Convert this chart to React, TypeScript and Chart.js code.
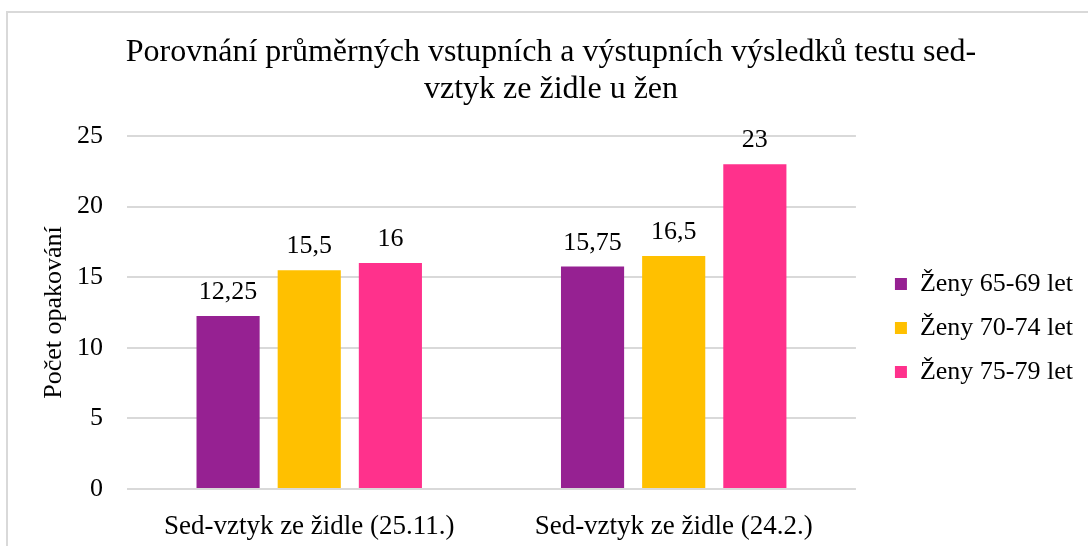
import React, { useEffect, useRef } from "react";
import { Chart, registerables } from "chart.js";

Chart.register(...registerables);

const titleLines = [
  "Porovnání průměrných vstupních a výstupních výsledků testu sed-",
  "vztyk ze židle u žen",
];
const categories = ["Sed-vztyk ze židle (25.11.)", "Sed-vztyk ze židle (24.2.)"];
const seriesNames = ["Ženy 65-69 let", "Ženy 70-74 let", "Ženy 75-79 let"];
const women6569 = [12.25, 15.75];
const women7074 = [15.5, 16.5];
const women7579 = [16, 23];
const seriesColors = ["#962192", "#FFC000", "#FF318C"];
const yAxisTitle = "Počet opakování";
const yMin = 0;
const yMax = 25;
const yStep = 5;

const FONT = '"Liberation Serif", "Times New Roman", serif';

const fmt = (v: number) => String(v).replace(".", ",");

const valueLabels = {
  id: "valueLabels",
  afterDatasetsDraw(chart: any) {
    const ctx = chart.ctx;
    ctx.save();
    ctx.font = `26px ${FONT}`;
    ctx.fillStyle = "#000";
    ctx.textAlign = "center";
    ctx.textBaseline = "alphabetic";
    chart.data.datasets.forEach((ds: any, i: number) => {
      const meta = chart.getDatasetMeta(i);
      meta.data.forEach((el: any, j: number) => {
        ctx.fillText(fmt(ds.data[j]), el.x, el.y - 17);
      });
    });
    ctx.restore();
  },
};

export default function App() {
  const ref = useRef<HTMLCanvasElement>(null);

  useEffect(() => {
    if (!ref.current) return;
    Chart.defaults.color = "#000";
    const data = [women6569, women7074, women7579];
    const chart = new Chart(ref.current, {
      type: "bar",
      data: {
        labels: categories,
        datasets: data.map((d, i) => ({
          label: seriesNames[i],
          data: d,
          backgroundColor: seriesColors[i],
          borderWidth: 0,
          categoryPercentage: 0.668,
          barPercentage: 0.778,
          yAxisID: "y",
        })),
      },
      options: {
        responsive: false,
        animation: false,
        layout: { padding: { left: 11, right: 5, top: 0, bottom: 0 } },
        plugins: {
          tooltip: { enabled: false },
          title: {
            display: true,
            text: titleLines,
            color: "#000",
            font: { family: FONT, size: 32, weight: "normal", lineHeight: 1.15 },
            padding: { top: 21.6, bottom: 27.8 },
          },
          legend: {
            position: "right",
            labels: {
              color: "#000",
              font: { family: FONT, size: 26 },
              boxWidth: 12,
              boxHeight: 12,
              padding: 18,
            },
          },
        },
        scales: {
          x: {
            grid: { display: false },
            border: { display: false },
            ticks: { font: { family: FONT, size: 27 }, color: "#000", padding: 14 },
            afterFit: (s: any) => {
              s.height = 154;
            },
          },
          y: {
            min: yMin,
            max: yMax,
            ticks: {
              stepSize: yStep,
              font: { family: FONT, size: 26 },
              color: "#000",
              padding: 24,
            },
            grid: { color: "#d9d9d9", lineWidth: 2, drawTicks: false },
            border: { display: false },
            title: {
              display: true,
              text: yAxisTitle,
              color: "#000",
              font: { family: FONT, size: 26, lineHeight: 1.2 },
              padding: { top: 20, bottom: 0 },
            },
            afterFit: (s: any) => {
              s.width = 108;
            },
          },
          yR: {
            position: "right",
            display: false,
            afterFit: (s: any) => {
              s.width = 21;
            },
          },
        },
      },
      plugins: [valueLabels],
    } as any);
    return () => chart.destroy();
  }, []);

  return (
    <div
      style={{
        position: "fixed",
        left: 6,
        top: 11,
        width: 1200,
        height: 700,
        borderTop: "2px solid #d9d9d9",
        borderLeft: "2px solid #d9d9d9",
        overflow: "hidden",
        background: "#fff",
      }}
    >
      <canvas ref={ref} width={1080} height={630} style={{ display: "block" }} />
    </div>
  );
}
